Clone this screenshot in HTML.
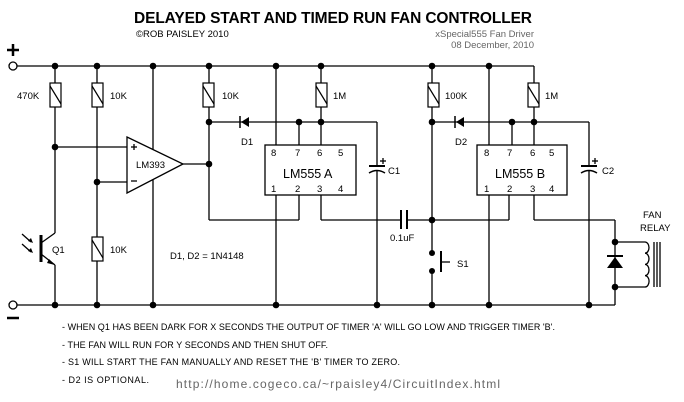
<!DOCTYPE html>
<html><head><meta charset="utf-8"><style>
html,body{margin:0;padding:0;background:#fff}
svg{display:block}
text{font-family:"Liberation Sans",sans-serif;fill:#000}
</style></head><body>
<svg width="684" height="402" viewBox="0 0 684 402" xmlns="http://www.w3.org/2000/svg">
<g stroke="#000" stroke-width="1.3" fill="none">
<line x1="17" y1="66" x2="534" y2="66"/>
<line x1="534" y1="66" x2="534" y2="83"/>
<line x1="17" y1="305" x2="615" y2="305"/>
<circle cx="13" cy="66" r="4" fill="#fff"/>
<circle cx="13" cy="305" r="4" fill="#fff"/>
<line x1="55" y1="66" x2="55" y2="233"/>
<line x1="55" y1="265" x2="55" y2="305"/>
<line x1="55" y1="147" x2="127" y2="147"/>
<line x1="97" y1="66" x2="97" y2="305"/>
<line x1="97" y1="182" x2="127" y2="182"/>
<line x1="153" y1="66" x2="153" y2="305"/>
<polygon points="127,137 127,193 183,164" fill="#fff"/>
<line x1="183" y1="164" x2="209" y2="164"/>
<line x1="209" y1="66" x2="209" y2="220"/>
<line x1="209" y1="220" x2="299" y2="220"/>
<line x1="209" y1="122" x2="377" y2="122"/>
<line x1="377" y1="122" x2="377" y2="166"/>
<line x1="377" y1="171" x2="377" y2="305"/>
<line x1="276" y1="66" x2="276" y2="145"/>
<line x1="299" y1="122" x2="299" y2="145"/>
<line x1="321" y1="66" x2="321" y2="145"/>
<rect x="265" y="145" width="91" height="50" fill="#fff"/>
<line x1="276" y1="195" x2="276" y2="305"/>
<line x1="299" y1="195" x2="299" y2="220"/>
<line x1="321" y1="195" x2="321" y2="220"/>
<line x1="321" y1="220" x2="401" y2="220"/>
<line x1="407" y1="220" x2="509" y2="220"/>
<line x1="401" y1="210" x2="401" y2="229" stroke-width="2"/>
<line x1="407" y1="210" x2="407" y2="229" stroke-width="2"/>
<line x1="369" y1="166" x2="385" y2="166" stroke-width="2"/>
<path d="M369,173 Q377,168 385,173" stroke-width="1.5"/>
<line x1="383" y1="158" x2="383" y2="164"/><line x1="380" y1="161" x2="386" y2="161"/>
<line x1="432" y1="66" x2="432" y2="253"/>
<line x1="432" y1="271" x2="432" y2="305"/>
<line x1="432" y1="122" x2="589" y2="122"/>
<line x1="589" y1="122" x2="589" y2="166"/>
<line x1="589" y1="171" x2="589" y2="305"/>
<line x1="441" y1="251" x2="441" y2="272" stroke-width="2"/>
<line x1="441" y1="262" x2="450" y2="262"/>
<line x1="489" y1="66" x2="489" y2="145"/>
<line x1="512" y1="122" x2="512" y2="145"/>
<line x1="534" y1="107" x2="534" y2="145"/>
<rect x="477" y="145" width="90" height="50" fill="#fff"/>
<line x1="489" y1="195" x2="489" y2="305"/>
<line x1="509" y1="195" x2="509" y2="220"/>
<line x1="534" y1="195" x2="534" y2="220"/>
<line x1="534" y1="220" x2="615" y2="220"/>
<line x1="615" y1="220" x2="615" y2="305"/>
<line x1="581" y1="166" x2="597" y2="166" stroke-width="2"/>
<path d="M581,173 Q589,168 597,173" stroke-width="1.5"/>
<line x1="595" y1="158" x2="595" y2="164"/><line x1="592" y1="161" x2="598" y2="161"/>
<line x1="615" y1="242" x2="645" y2="242"/>
<line x1="615" y1="287" x2="645" y2="287"/>
<path d="M645,242 a4,5.6 0 0 1 0,11.2 a4,5.6 0 0 1 0,11.2 a4,5.6 0 0 1 0,11.2 a4,5.6 0 0 1 0,11.4"/>
<line x1="654" y1="242" x2="654" y2="287"/>
<line x1="657" y1="242" x2="657" y2="287"/>
<line x1="660" y1="242" x2="660" y2="287"/>
<line x1="607" y1="256" x2="623" y2="256" stroke-width="2"/>
<line x1="41" y1="235" x2="41" y2="262" stroke-width="3"/>
<line x1="41" y1="243" x2="55" y2="233"/>
<line x1="41" y1="254" x2="55" y2="265"/>
<line x1="22" y1="234" x2="31" y2="242"/>
<line x1="22" y1="244" x2="31" y2="252"/>
<line x1="7" y1="50" x2="19" y2="50" stroke-width="2.5"/>
<line x1="13" y1="44" x2="13" y2="56" stroke-width="2.5"/>
<line x1="7" y1="318" x2="19" y2="318" stroke-width="2.5"/>
<line x1="131" y1="147" x2="137" y2="147"/><line x1="134" y1="144" x2="134" y2="150"/>
<line x1="131" y1="181" x2="137" y2="181"/>
</g>
<g fill="#000">
<polygon points="241,122 249,117 249,127"/><line x1="240" y1="116" x2="240" y2="128" stroke="#000" stroke-width="1.5"/>
<polygon points="456,122 464,117 464,127"/><line x1="455" y1="116" x2="455" y2="128" stroke="#000" stroke-width="1.5"/>
<polygon points="615,257 607,268 623,268"/>
<polygon points="55,265 49,259 47,263"/>
<polygon points="33,243 28,241 31,238"/><polygon points="33,253 28,251 31,248"/>
</g>
<g fill="#fff" stroke="#000" stroke-width="1.2">
<rect x="50" y="83" width="11" height="24"/><line x1="50" y1="86" x2="61" y2="104"/>
<rect x="92" y="83" width="11" height="24"/><line x1="92" y1="86" x2="103" y2="104"/>
<rect x="92" y="237" width="11" height="24"/><line x1="92" y1="240" x2="103" y2="258"/>
<rect x="203" y="83" width="11" height="24"/><line x1="203" y1="86" x2="214" y2="104"/>
<rect x="316" y="83" width="11" height="24"/><line x1="316" y1="86" x2="327" y2="104"/>
<rect x="428" y="83" width="11" height="24"/><line x1="428" y1="86" x2="439" y2="104"/>
<rect x="528" y="83" width="11" height="24"/><line x1="528" y1="86" x2="539" y2="104"/>
</g>
<g fill="#000">
<circle cx="55" cy="66" r="3.3"/><circle cx="97" cy="66" r="3.3"/><circle cx="153" cy="66" r="3.3"/><circle cx="209" cy="66" r="3.3"/><circle cx="276" cy="66" r="3.3"/><circle cx="321" cy="66" r="3.3"/><circle cx="432" cy="66" r="3.3"/><circle cx="489" cy="66" r="3.3"/>
<circle cx="55" cy="147" r="3.3"/><circle cx="97" cy="182" r="3.3"/><circle cx="209" cy="164" r="3.3"/><circle cx="209" cy="122" r="3.3"/><circle cx="299" cy="122" r="3.3"/><circle cx="321" cy="122" r="3.3"/>
<circle cx="432" cy="122" r="3.3"/><circle cx="512" cy="122" r="3.3"/><circle cx="534" cy="122" r="3.3"/>
<circle cx="432" cy="220" r="3.3"/><circle cx="432" cy="253" r="3"/><circle cx="432" cy="271" r="3"/>
<circle cx="615" cy="242" r="3.3"/><circle cx="615" cy="287" r="3.3"/>
<circle cx="55" cy="305" r="3.3"/><circle cx="97" cy="305" r="3.3"/><circle cx="153" cy="305" r="3.3"/><circle cx="276" cy="305" r="3.3"/><circle cx="377" cy="305" r="3.3"/><circle cx="432" cy="305" r="3.3"/><circle cx="489" cy="305" r="3.3"/><circle cx="589" cy="305" r="3.3"/>
</g>
<text x="134" y="23" font-size="15.5" font-weight="bold" textLength="398">DELAYED START AND TIMED RUN FAN CONTROLLER</text>
<text x="136" y="37" font-size="9.5">©ROB PAISLEY 2010</text>
<text x="534" y="37" font-size="9.5" text-anchor="end" style="fill:#666">xSpecial555 Fan Driver</text>
<text x="534" y="48" font-size="9.5" text-anchor="end" style="fill:#666">08 December, 2010</text>
<g font-size="9.5">
<text x="17" y="99">470K</text><text x="110" y="99">10K</text><text x="222" y="99">10K</text><text x="333" y="99">1M</text><text x="445" y="99">100K</text><text x="545" y="99">1M</text>
<text x="110" y="253">10K</text><text x="52" y="253">Q1</text>
<text x="136" y="168">LM393</text>
<text x="241" y="145">D1</text><text x="455" y="145">D2</text>
<text x="388" y="174">C1</text><text x="602" y="174">C2</text>
<text x="170" y="259">D1, D2 = 1N4148</text>
<text x="390" y="241">0.1uF</text><text x="457" y="267">S1</text>
<text x="643" y="218">FAN</text><text x="640" y="231">RELAY</text>
<text x="271" y="156">8</text><text x="295" y="156">7</text><text x="317" y="156">6</text><text x="338" y="156">5</text>
<text x="271" y="192">1</text><text x="295" y="192">2</text><text x="317" y="192">3</text><text x="338" y="192">4</text>
<text x="484" y="156">8</text><text x="507" y="156">7</text><text x="530" y="156">6</text><text x="549" y="156">5</text>
<text x="484" y="192">1</text><text x="507" y="192">2</text><text x="530" y="192">3</text><text x="549" y="192">4</text>
</g>
<text x="283" y="178" font-size="12.5">LM555 A</text>
<text x="495" y="178" font-size="12.5">LM555 B</text>
<g font-size="9">
<text x="62" y="330" textLength="493">- WHEN Q1 HAS BEEN DARK FOR X SECONDS THE OUTPUT OF TIMER 'A' WILL GO LOW AND TRIGGER TIMER 'B'.</text>
<text x="62" y="348" textLength="266">- THE FAN WILL RUN FOR Y SECONDS AND THEN SHUT OFF.</text>
<text x="62" y="365" textLength="338">- S1 WILL START THE FAN MANUALLY AND RESET THE 'B' TIMER TO ZERO.</text>
<text x="62" y="383" textLength="87">- D2 IS OPTIONAL.</text>
</g>
<text x="176" y="388" font-size="12" style="fill:#666" textLength="324">http://home.cogeco.ca/~rpaisley4/CircuitIndex.html</text>
</svg>
</body></html>
